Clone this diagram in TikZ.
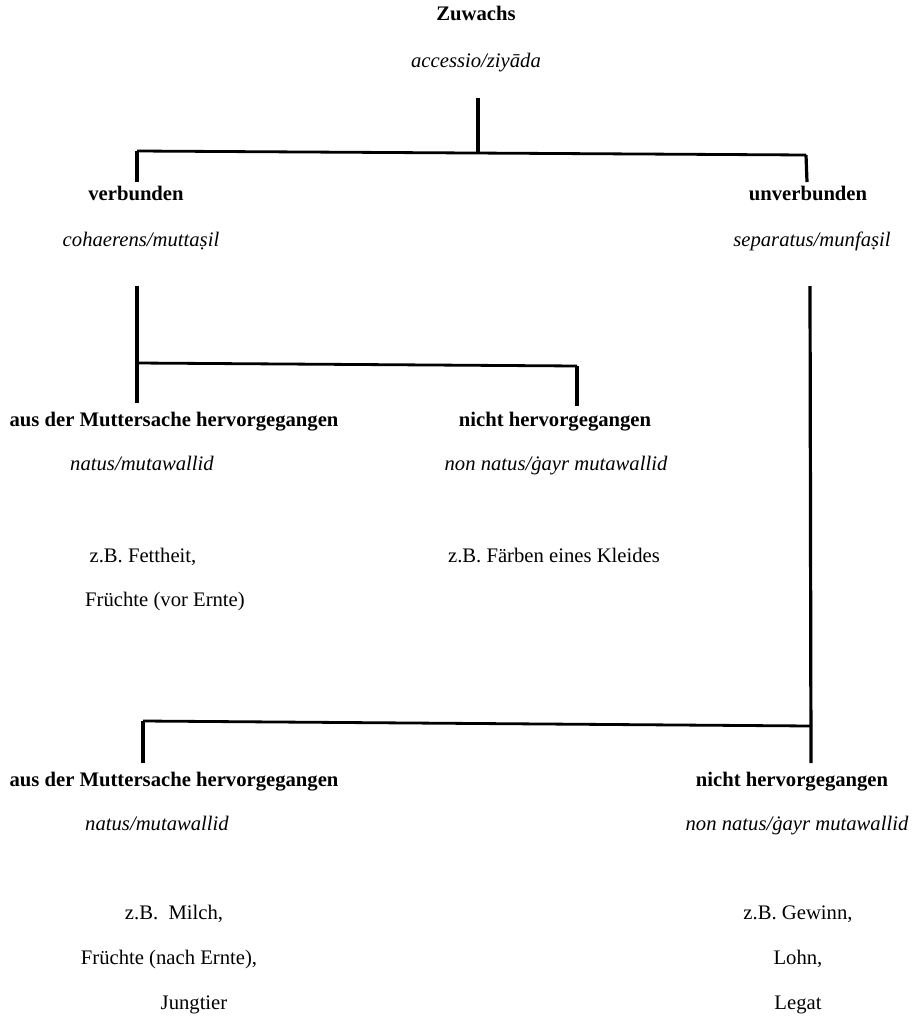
\documentclass[tikz,border=0pt]{standalone}
\usepackage{fontspec}
\setmainfont{Liberation Serif}
\begin{document}
\begin{tikzpicture}[x=0.75pt,y=-0.75pt,
  txt/.style={anchor=base,inner sep=0pt,font=\fontsize{15.5}{18}\selectfont},
  hd/.style={txt,font=\fontsize{15.5}{18}\selectfont\bfseries},
  it/.style={txt,font=\fontsize{15.5}{18}\selectfont\itshape},
  conn/.style={line width=2.4pt,black},
  hconn/.style={line width=2.1pt,black}]
\useasboundingbox (0,0) rectangle (913,1017);
% texts
\node[hd] (zuw) at (476,21) {Zuwachs};
\node[it] (zuwl) at (476,67) {accessio/ziyāda};
\node[hd] (verb) at (136,200) {verbunden};
\node[it] (verbl) at (141,246) {cohaerens/muttaṣil};
\node[hd] (unv) at (808,200) {unverbunden};
\node[it] (unvl) at (812,246) {separatus/munfaṣil};
\node[hd] (a1) at (174,426) {aus der Muttersache hervorgegangen};
\node[it] (a1l) at (142,470) {natus/mutawallid};
\node[txt] (a1e1) at (143,562) {z.B. Fettheit,};
\node[txt] (a1e2) at (165,606) {Früchte (vor Ernte)};
\node[hd] (n1) at (555,426) {nicht hervorgegangen};
\node[it] (n1l) at (556,470) {non natus/ġayr mutawallid};
\node[txt] (n1e1) at (554,562) {z.B. Färben eines Kleides};
\node[hd] (a2) at (174,786) {aus der Muttersache hervorgegangen};
\node[it] (a2l) at (157,830) {natus/mutawallid};
\node[txt] (a2e1) at (174,919) {z.B.\ \ Milch,};
\node[txt] (a2e2) at (169,964) {Früchte (nach Ernte),};
\node[txt] (a2e3) at (194,1009) {Jungtier};
\node[hd] (n2) at (792,786) {nicht hervorgegangen};
\node[it] (n2l) at (797,830) {non natus/ġayr mutawallid};
\node[txt] (n2e1) at (798,919) {z.B. Gewinn,};
\node[txt] (n2e2) at (798,964) {Lohn,};
\node[txt] (n2e3) at (798,1009) {Legat};
% junction coordinates
\coordinate (r0t) at (478,98);
\coordinate (r0b) at (478,153);
\coordinate (hL) at (137,151);
\coordinate (hR) at (806,155);
\coordinate (verbt) at (137,182);
\coordinate (unvt) at (807,182);
\coordinate (vs) at (137,286);
\coordinate (vj) at (137,363);
\coordinate (a1t) at (137,403);
\coordinate (n1j) at (577,366);
\coordinate (n1t) at (577,406);
\coordinate (us) at (810,286);
\coordinate (uj) at (811,726);
\coordinate (n2t) at (811,763);
\coordinate (a2j) at (143,721);
\coordinate (a2t) at (143,763);
% connectors
\draw[conn] (r0t) -- (r0b);
\draw[hconn] (hL) -- (hR);
\draw[conn] (hL) -- (verbt);
\draw[conn] (hR) -- (unvt);
\draw[conn] (vs) -- (a1t);
\draw[hconn] (vj) -- (n1j);
\draw[conn] (n1j) -- (n1t);
\draw[conn] (us) -- (n2t);
\draw[hconn] (a2j) -- (uj);
\draw[conn] (a2j) -- (a2t);
\end{tikzpicture}
\end{document}
